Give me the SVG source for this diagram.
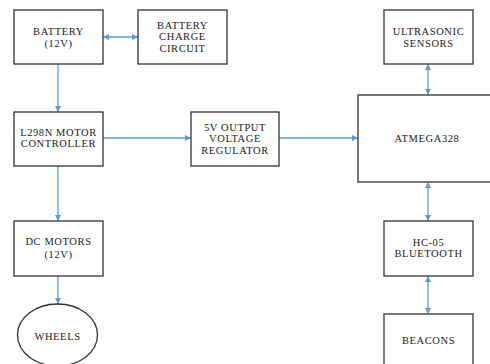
<svg xmlns="http://www.w3.org/2000/svg" width="490" height="364" viewBox="0 0 490 364">
<defs>
<marker id="ah" viewBox="0 0 10 10" refX="10" refY="5" markerWidth="6" markerHeight="6" markerUnits="userSpaceOnUse" orient="auto-start-reverse">
<path d="M0,0 L10,5 L0,10 z" fill="#5b9bd5"/>
</marker>
<style>
.box{fill:#fff;stroke:#333;stroke-width:1.3}
.t{font-family:"Liberation Serif","Times New Roman",serif;font-size:10.5px;fill:#222;text-anchor:middle;letter-spacing:0.6px}
.c{stroke:#5b9bd5;stroke-width:1.3;fill:none}
</style>
</defs>
<rect width="490" height="364" fill="#fff"/>
<g id="connectors">
<line class="c" x1="103" y1="37" x2="138" y2="37" marker-start="url(#ah)" marker-end="url(#ah)"/>
<line class="c" x1="58" y1="64" x2="58" y2="112" marker-end="url(#ah)"/>
<line class="c" x1="103" y1="138" x2="191" y2="138" marker-end="url(#ah)"/>
<line class="c" x1="279" y1="138" x2="358" y2="138" marker-end="url(#ah)"/>
<line class="c" x1="58" y1="166" x2="58" y2="221" marker-end="url(#ah)"/>
<line class="c" x1="58" y1="276" x2="58" y2="304" marker-end="url(#ah)"/>
<line class="c" x1="428" y1="64" x2="428" y2="95" marker-start="url(#ah)" marker-end="url(#ah)"/>
<line class="c" x1="428" y1="182" x2="428" y2="221" marker-start="url(#ah)" marker-end="url(#ah)"/>
<line class="c" x1="428" y1="276" x2="428" y2="314" marker-start="url(#ah)" marker-end="url(#ah)"/>
</g>
<g id="battery">
<rect class="box" x="14" y="10" width="89" height="54"/>
<text class="t" x="58.5" y="34.5">BATTERY</text>
<text class="t" x="58.5" y="46.5">(12V)</text>
</g>
<g id="charge">
<rect class="box" x="138" y="10" width="89" height="54"/>
<text class="t" x="182.5" y="28.5">BATTERY</text>
<text class="t" x="182.5" y="40">CHARGE</text>
<text class="t" x="182.5" y="51.5">CIRCUIT</text>
</g>
<g id="l298n">
<rect class="box" x="14" y="112" width="89" height="54"/>
<text class="t" x="58.5" y="135.5">L298N MOTOR</text>
<text class="t" x="58.5" y="147">CONTROLLER</text>
</g>
<g id="regulator">
<rect class="box" x="191" y="112" width="88" height="54"/>
<text class="t" x="235" y="130.5">5V OUTPUT</text>
<text class="t" x="235" y="142">VOLTAGE</text>
<text class="t" x="235" y="153.5">REGULATOR</text>
</g>
<g id="atmega">
<rect class="box" x="358" y="95" width="140" height="87"/>
<text class="t" x="427" y="141.5">ATMEGA328</text>
</g>
<g id="ultrasonic">
<rect class="box" x="384" y="10" width="89" height="54"/>
<text class="t" x="428.5" y="35">ULTRASONIC</text>
<text class="t" x="428.5" y="46.5">SENSORS</text>
</g>
<g id="dcmotors">
<rect class="box" x="14" y="221" width="89" height="55"/>
<text class="t" x="58.5" y="245">DC MOTORS</text>
<text class="t" x="58.5" y="257.5">(12V)</text>
</g>
<g id="hc05">
<rect class="box" x="384" y="221" width="89" height="55"/>
<text class="t" x="428.5" y="245.5">HC-05</text>
<text class="t" x="428.5" y="257">BLUETOOTH</text>
</g>
<g id="wheels">
<ellipse cx="57.5" cy="335" rx="40" ry="31" fill="#fff" stroke="#333" stroke-width="1.3"/>
<text class="t" x="57.5" y="339.5">WHEELS</text>
</g>
<g id="beacons">
<rect class="box" x="384" y="314" width="89" height="60"/>
<text class="t" x="428.5" y="344">BEACONS</text>
</g>
</svg>
